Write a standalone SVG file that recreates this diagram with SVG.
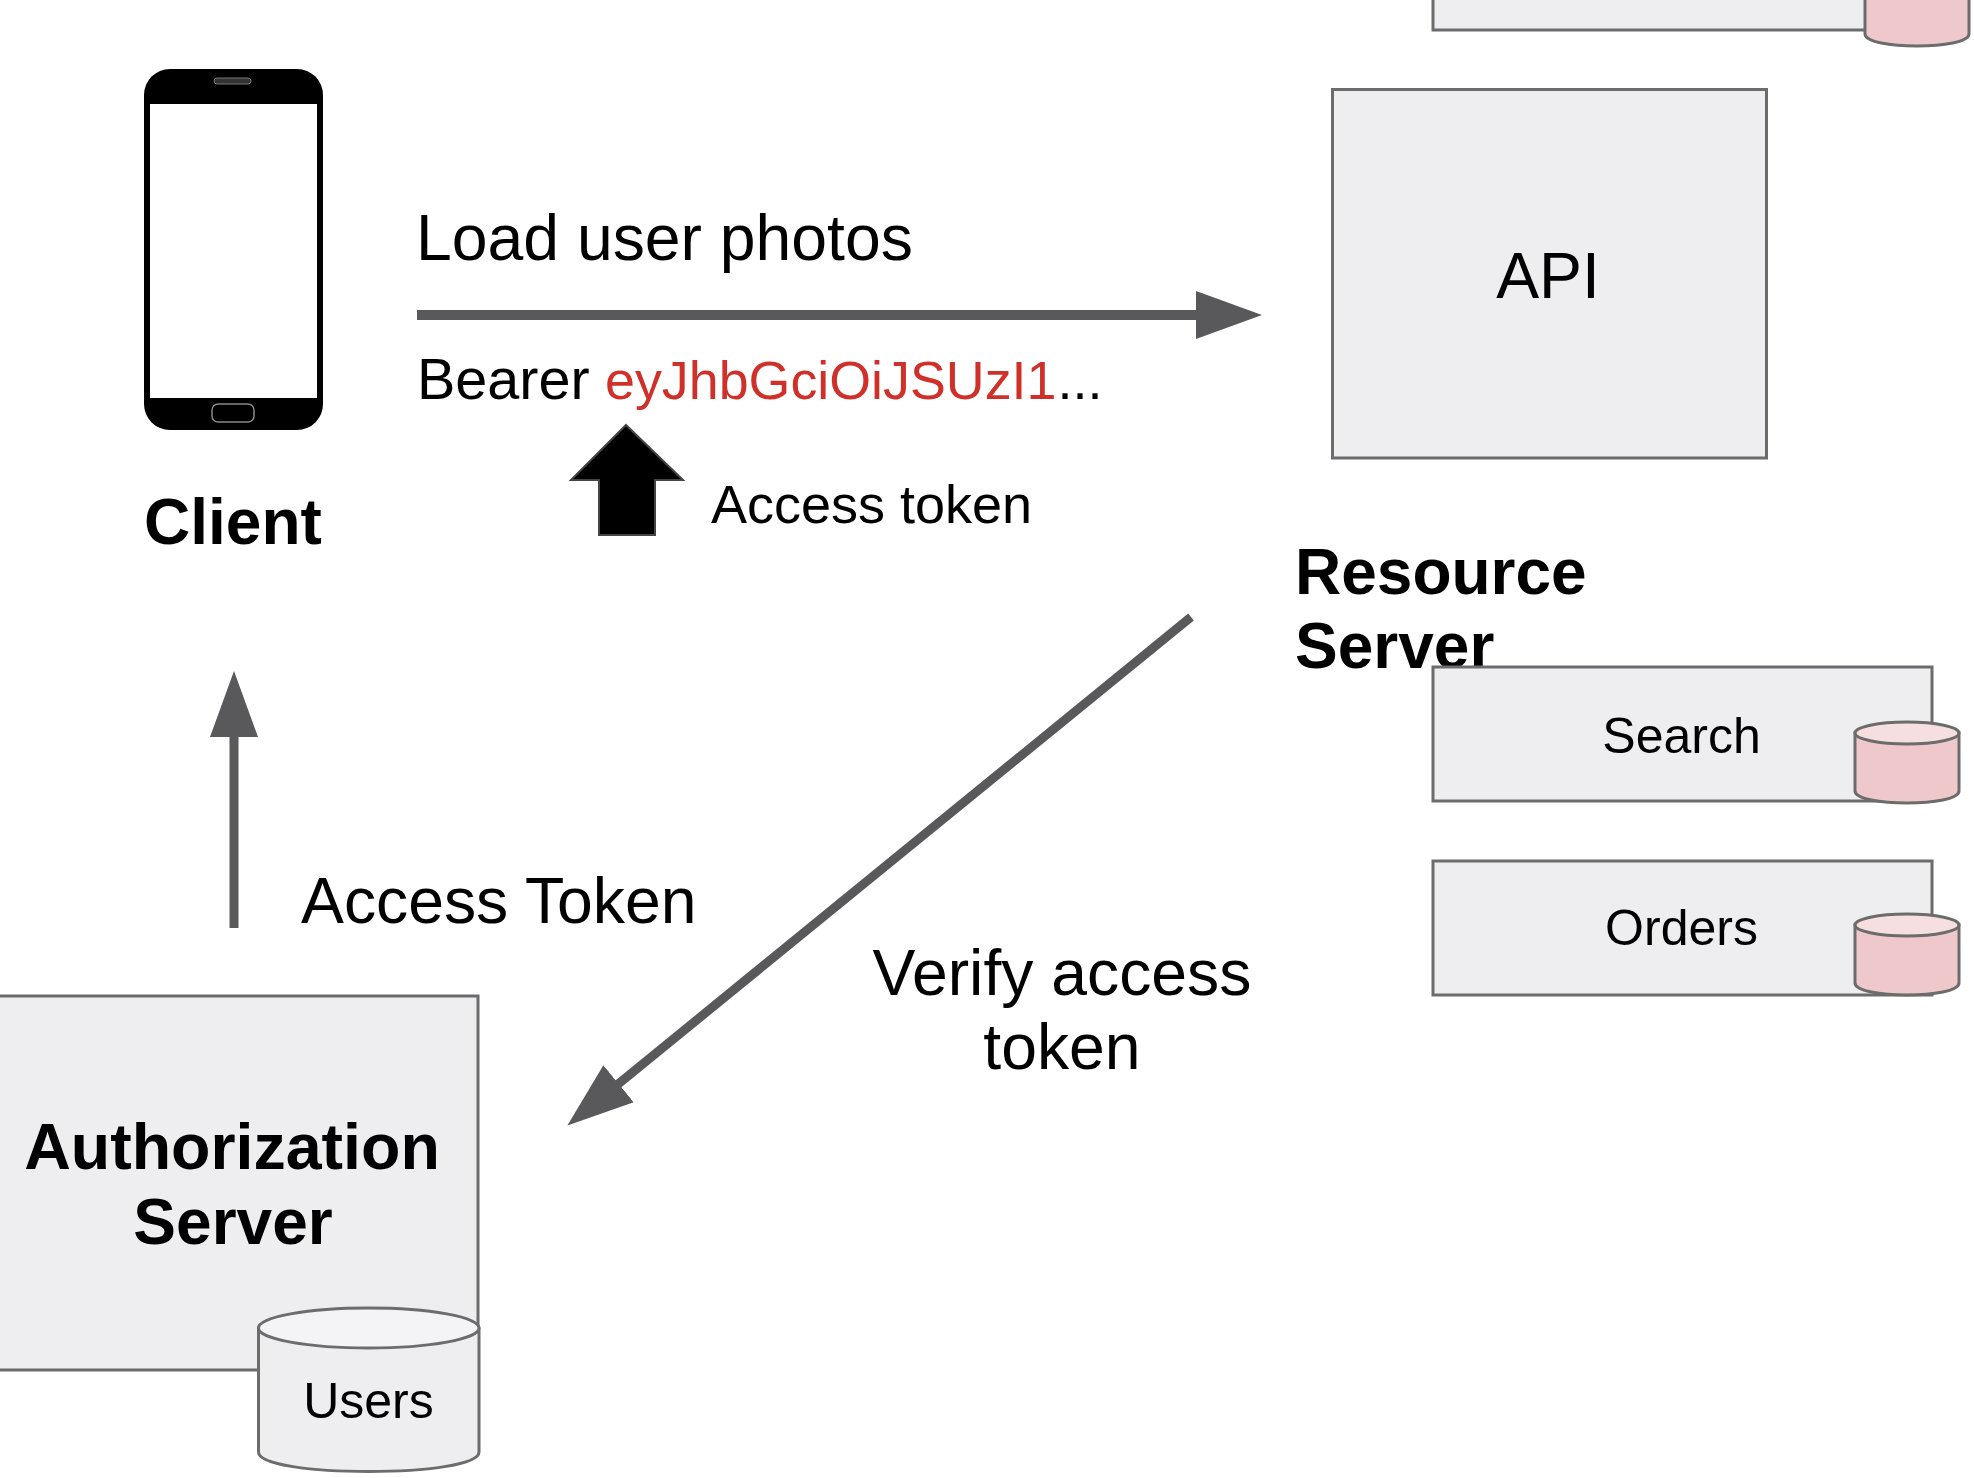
<svg xmlns="http://www.w3.org/2000/svg" width="1974" height="1478" viewBox="0 0 1974 1478">
<defs>
<style>
text{font-family:"Liberation Sans",Arial,sans-serif;fill:#000}
.b{fill:#eeedf0;stroke:#6c6c6c;stroke-width:3}
.c{stroke:#6c6c6c;stroke-width:3}
.p{fill:#efc8cc}.pt{fill:#f5dfe0}
.g{fill:#eeedf0}.gt{fill:#f4f3f6}
.h{font-size:64.3px}.bd{font-size:64px;font-weight:bold}
.m{font-size:50px}.s{font-size:54px}.ctr{text-anchor:middle}
.conn{stroke:#59595b;fill:none}
.tok{fill:#d0302a;font-size:53.800px}
</style>
<marker id="ah" markerUnits="userSpaceOnUse" markerWidth="68" markerHeight="50" refX="2" refY="25" orient="auto"><path d="M0 1L66 25L0 49Z" fill="#59595b"/></marker>
</defs>
<rect width="1974" height="1478" fill="#fff"/>
<g id="connectors">
<line class="conn" x1="417" y1="315" x2="1198" y2="315" stroke-width="10" marker-end="url(#ah)"/>
<line class="conn" x1="234" y1="928" x2="234" y2="735" stroke-width="9" marker-end="url(#ah)"/>
<line class="conn" x1="1191" y1="617" x2="617" y2="1085" stroke-width="9" marker-end="url(#ah)"/>
</g>
<g id="client">
<rect x="144" y="69" width="179" height="361" rx="26" fill="#000"/>
<rect x="150" y="104" width="167" height="294" fill="#fff"/>
<rect x="214" y="78" width="37" height="6" rx="3" fill="#333" stroke="#777"/>
<rect x="212" y="404" width="42" height="18" rx="6" fill="#000" stroke="#888" stroke-width="1.5"/>
<text class="bd" x="144" y="544">Client</text>
</g>
<g id="load-label"><text class="h" x="416" y="260">Load user photos</text></g>
<g id="bearer-label"><text class="s" x="417" y="399" style="font-size:57.500px">Bearer</text><text class="s" x="605" y="399"><tspan class="tok">eyJhbGciOiJSUzI1</tspan><tspan dx="1">...</tspan></text></g>
<g id="access-token-pointer">
<path d="M626 425L683 480H655V535H599V480H571Z" fill="#000" stroke="#444" stroke-width="2"/>
<text class="s" x="711" y="523">Access token</text>
</g>
<g id="top-service">
<path class="b" d="M1433 -4V30H1880V-4"/>
<path class="c p" d="M1865 -4V34C1865 50 1969 50 1969 34V-4Z"/>
</g>
<g id="api">
<rect class="b" x="1332.500" y="89.500" width="434" height="368.500"/>
<text class="h ctr" x="1548" y="298">API</text>
</g>
<g id="resource-server"><text class="bd" x="1295" y="594">Resource</text><text class="bd" x="1295" y="668">Server</text></g>
<g id="search">
<rect class="b" x="1433" y="667" width="499" height="134"/>
<text class="m ctr" x="1681.500" y="753">Search</text>
<path class="c p" d="M1855 733V791C1855 807 1959 807 1959 791V733Z"/>
<ellipse class="c pt" cx="1907" cy="733" rx="52" ry="11"/>
</g>
<g id="orders">
<rect class="b" x="1433" y="861" width="499" height="134"/>
<text class="m ctr" x="1681.500" y="945">Orders</text>
<path class="c p" d="M1855 925V983C1855 999 1959 999 1959 983V925Z"/>
<ellipse class="c pt" cx="1907" cy="925" rx="52" ry="11"/>
</g>
<g id="access-token-label"><text class="h" x="301" y="923">Access Token</text></g>
<g id="verify-label"><text class="h ctr" x="1062" y="995">Verify access</text><text class="h ctr" x="1062" y="1069">token</text></g>
<g id="authorization-server">
<path class="b" d="M-4 996H478V1370H-4Z"/>
<text class="bd ctr" x="232" y="1169" style="font-size:64.500px">Authorization</text>
<text class="bd ctr" x="233" y="1244">Server</text>
</g>
<g id="users">
<path class="c g" d="M258.500 1329V1452C258.500 1478 479 1478 479 1452V1329Z"/>
<ellipse class="c gt" cx="368.700" cy="1328" rx="110.300" ry="20"/>
<text class="m ctr" x="368.500" y="1418">Users</text>
</g>
</svg>
